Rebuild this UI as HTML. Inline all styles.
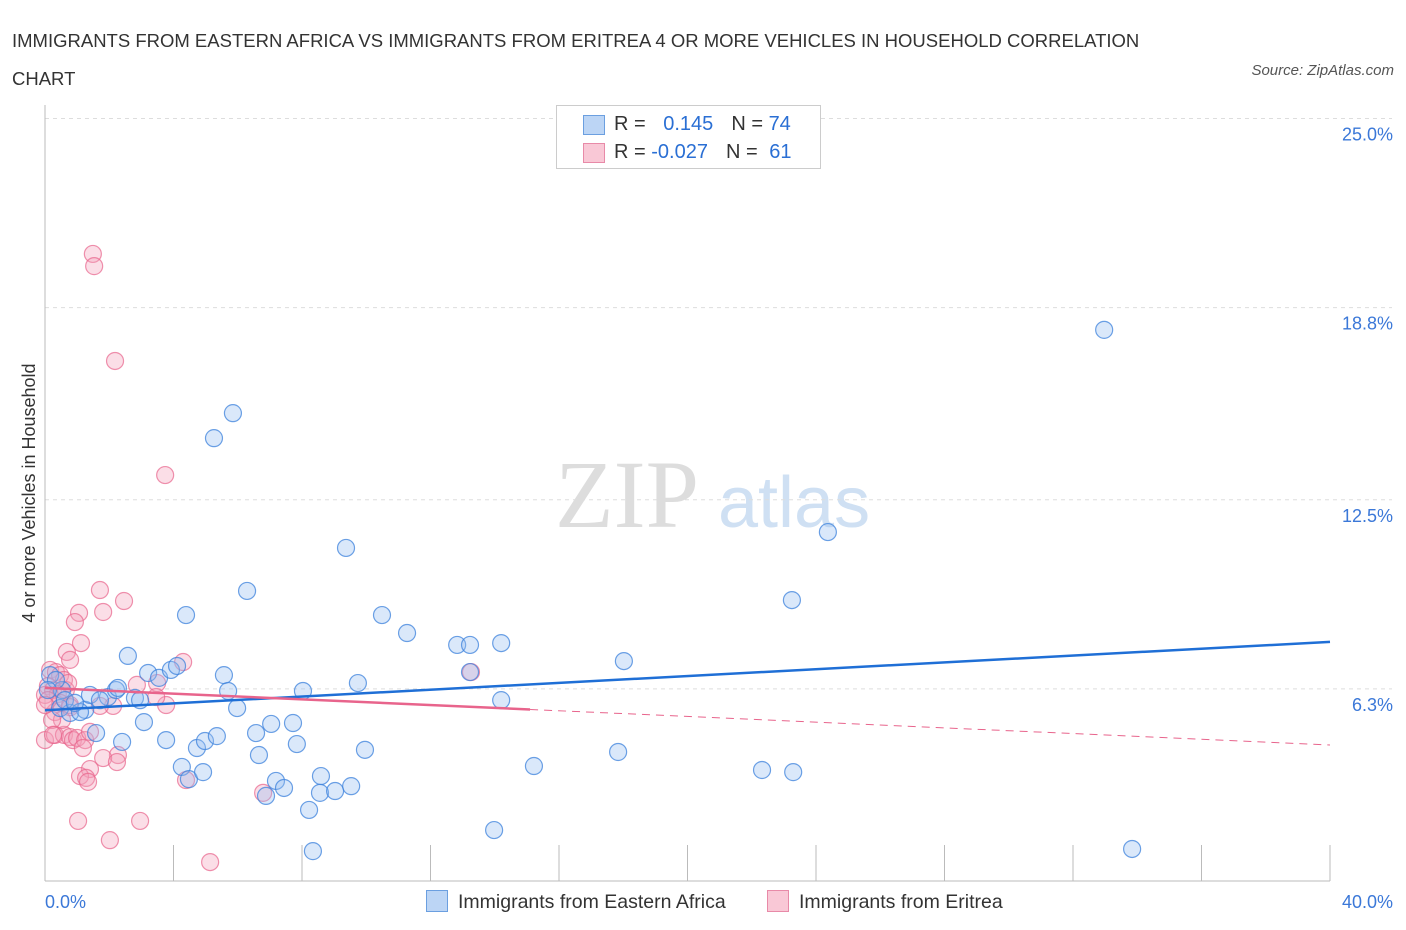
<!DOCTYPE html>
<html><head><meta charset="utf-8"><style>
body{margin:0;background:#fff;font-family:"Liberation Sans",sans-serif;}
#wrap{position:relative;width:1406px;height:930px;overflow:hidden;}
.t{position:absolute;white-space:nowrap}
</style></head><body>
<div id="wrap">
<div class="t" style="left:12px;top:22px;font-size:18.5px;color:#333;line-height:38px">IMMIGRANTS FROM EASTERN AFRICA VS IMMIGRANTS FROM ERITREA 4 OR MORE VEHICLES IN HOUSEHOLD CORRELATION<br>CHART</div>
<div class="t" style="right:12px;top:62px;font-size:15px;font-style:italic;color:#555">Source: ZipAtlas.com</div>
<svg id="svg" width="1406" height="930" style="position:absolute;left:0;top:0"></svg>
</div>
<script>
const yTicks=[25.0,18.8,12.5,6.3];
const yTickLabels=["25.0%","18.8%","12.5%","6.3%"];
const xTickLabels=["0.0%","40.0%"];
const blueX=[5.85,5.26,9.37,24.37,32.97,6.29,4.39,10.49,11.27,12.83,13.23,14.20,23.25,18.02,2.58,3.21,3.55,3.92,4.11,5.57,5.70,8.03,9.74,14.20,5.98,1.59,2.40,3.08,3.77,4.73,4.98,5.35,6.57,7.04,7.72,7.84,6.66,9.96,4.26,4.48,4.92,7.19,7.44,6.88,8.59,8.56,9.03,9.53,8.22,8.34,13.98,15.22,17.84,22.32,23.29,33.84,0.47,0.78,1.25,1.96,2.21,1.40,1.71,2.80,2.96,0.53,0.16,0.34,0.62,1.09,0.93,2.27,13.23,0.09];
const blueY=[15.34,14.52,10.92,11.44,18.07,9.51,8.72,8.72,8.13,7.74,7.74,7.80,9.21,7.21,7.38,6.82,6.66,6.92,7.05,6.75,6.23,6.23,6.49,5.93,5.67,4.85,4.56,5.21,4.62,4.36,4.59,4.75,4.85,5.15,5.18,4.49,4.13,4.30,3.74,3.34,3.57,3.28,3.05,2.79,3.44,2.89,2.95,3.11,2.33,0.98,1.67,3.77,4.23,3.64,3.57,1.05,5.67,5.51,5.61,6.03,6.26,6.10,5.93,6.00,5.93,6.26,6.75,6.59,5.93,5.54,5.84,6.33,6.85,6.26];
const pinkX=[1.49,1.53,2.18,3.74,1.71,1.06,2.46,1.81,0.93,1.12,0.68,0.78,4.30,0.16,0.34,0.47,0.59,0.09,0.25,0.40,0.65,0.0,0.47,0.78,2.12,3.49,3.77,2.86,3.46,0.31,0.78,0.0,0.31,0.59,0.78,0.87,1.00,1.25,1.18,2.27,1.81,2.24,1.40,1.09,1.28,1.34,4.39,6.79,13.26,1.03,2.96,2.02,5.14,0.53,0.22,0.09,0.0,0.72,1.71,1.40,0.25];
const pinkY=[20.56,20.16,17.05,13.31,9.54,8.79,9.18,8.82,8.49,7.80,7.51,7.25,7.18,6.92,6.85,6.75,6.59,6.39,6.26,6.13,6.26,6.10,5.84,5.77,5.74,6.49,5.77,6.43,6.03,5.54,5.70,4.62,4.79,4.79,4.72,4.62,4.69,4.62,4.36,4.13,4.03,3.90,3.67,3.44,3.38,3.25,3.31,2.89,6.85,1.97,1.97,1.34,0.62,5.28,5.28,5.93,5.77,6.49,5.74,4.89,4.79];
const blueTrend=[5.6,7.84];
const pinkTrend=[6.33,4.46];
const pinkSolidEnd=15.1;

const X=v=>45+v/40*1285;
const Y=v=>881-v*30.5;
const svg=document.getElementById('svg');
const NS='http://www.w3.org/2000/svg';
function mk(tag,attrs){const e=document.createElementNS(NS,tag);for(const k in attrs)e.setAttribute(k,attrs[k]);svg.appendChild(e);return e;}

let w=mk('text',{x:555,y:527,'font-size':96,'font-family':'Liberation Serif',fill:'#ddd'});w.textContent='ZIP';


let w2=mk('text',{x:718,y:527,'font-size':72,'font-family':'Liberation Sans',fill:'#cfe0f3'});w2.textContent='atlas';



yTicks.forEach((t,i)=>{
 const g=mk('line',{x1:45,x2:1392,y1:Y(t),y2:Y(t),stroke:'#ddd','stroke-dasharray':'4,4'});
 
 
 const l=mk('text',{x:1393,y:Y(t)+22,'text-anchor':'end','font-size':18,fill:'#3b78d8'});l.textContent=yTickLabels[i];
 
 
});
let ax=mk('line',{x1:45,x2:1330,y1:881,y2:881,stroke:'#bbb'});


let ay=mk('line',{x1:45,x2:45,y1:105,y2:881,stroke:'#bbb'});


for(let v=4;v<=40;v+=4){const t=mk('line',{x1:X(v),x2:X(v),y1:845,y2:881,stroke:'#bbb'});
 
 }
[[0,'start',45],[40,'end',1393]].forEach((a,i)=>{const t=mk('text',{x:a[2],y:908,'text-anchor':a[1],'font-size':18,fill:'#3b78d8'});t.textContent=xTickLabels[i];
 
 });
let yt=mk('text',{transform:'translate(35,493) rotate(-90)','text-anchor':'middle','font-size':18,fill:'#333'});yt.textContent='4 or more Vehicles in Household';



pinkX.forEach((x,i)=>{const c=mk('circle',{cx:X(x),cy:Y(pinkY[i]),r:8.5,fill:'rgba(244,160,185,0.35)',stroke:'rgba(232,100,140,0.7)','stroke-width':1.2});
 
 });
blueX.forEach((x,i)=>{const c=mk('circle',{cx:X(x),cy:Y(blueY[i]),r:8.5,fill:'rgba(150,190,240,0.35)',stroke:'rgba(60,130,220,0.75)','stroke-width':1.2});
 
 });

let bt=mk('line',{x1:X(0),y1:Y(blueTrend[0]),x2:X(40),y2:Y(blueTrend[1]),stroke:'#1f6fd6','stroke-width':2.5});


const py=v=>pinkTrend[0]+(pinkTrend[1]-pinkTrend[0])*v/40;
let pt=mk('line',{x1:X(0),y1:Y(py(0)),x2:X(pinkSolidEnd),y2:Y(py(pinkSolidEnd)),stroke:'#e8648c','stroke-width':2.5});


let pd=mk('line',{x1:X(pinkSolidEnd),y1:Y(py(pinkSolidEnd)),x2:X(40),y2:Y(py(40)),stroke:'#e8648c','stroke-width':1,'stroke-dasharray':'8,6'});


</script>
<div class="t" style="left:556px;top:105px;width:263px;height:62px;border:1px solid #ccc;background:#fff;font-size:20px">
 <div style="position:absolute;left:26px;top:9px;width:20px;height:18px;background:#bcd5f5;border:1px solid #6b9fe0"></div>
 <div style="position:absolute;left:57px;top:7px;color:#333">R = <span style="color:#2a6fd4;margin-left:12px">0.145</span><span style="margin-left:18px">N = </span><span style="color:#2a6fd4">74</span></div>
 <div style="position:absolute;left:26px;top:37px;width:20px;height:18px;background:#f9c8d6;border:1px solid #e88aa8"></div>
 <div style="position:absolute;left:57px;top:35px;color:#333">R = <span style="color:#2a6fd4">-0.027</span><span style="margin-left:18px">N = </span><span style="color:#2a6fd4;margin-left:6px">61</span></div>
</div>
<div class="t" style="left:426px;top:890px;font-size:19.5px;color:#333"><span style="display:inline-block;width:20px;height:20px;background:#bcd5f5;border:1px solid #6b9fe0;vertical-align:-4px;margin-right:10px"></span>Immigrants from Eastern Africa</div>
<div class="t" style="left:767px;top:890px;font-size:19.5px;color:#333"><span style="display:inline-block;width:20px;height:20px;background:#f9c8d6;border:1px solid #e88aa8;vertical-align:-4px;margin-right:10px"></span>Immigrants from Eritrea</div>
</body></html>
